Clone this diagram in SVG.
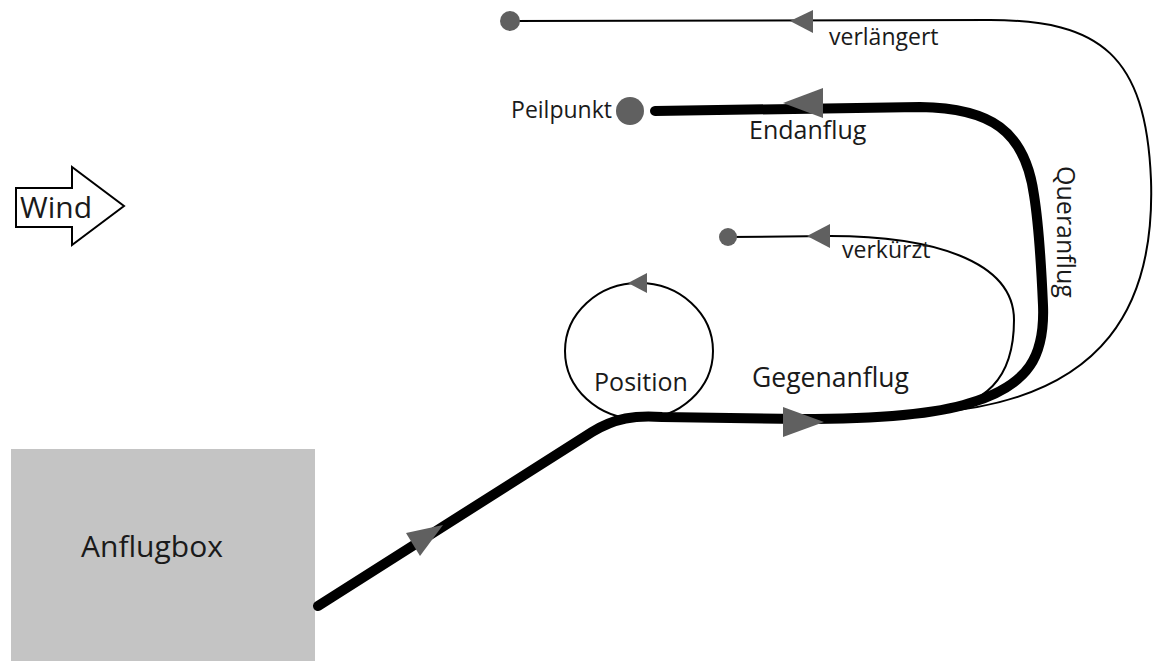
<svg xmlns="http://www.w3.org/2000/svg" width="1156" height="661" viewBox="0 0 1156 661">
<style>
  text { font-family: "Open Sans", "Noto Sans", "Liberation Sans", sans-serif; fill: #1a1a1a; }
  .thick { fill: none; stroke: #000; stroke-width: 10; stroke-linecap: round; stroke-linejoin: round; }
  .thin { fill: none; stroke: #000; stroke-width: 2; }
  .head { fill: #606060; }
  .dot { fill: #606060; }
  .lbl { font-size: 25px; }
  .small { font-size: 23px; }
</style>
<rect width="1156" height="661" fill="#fff"/>

<g id="anflugbox">
  <rect x="11" y="449" width="304" height="220" fill="#c4c4c4"/>
  <text x="152" y="557" font-size="30" text-anchor="middle">Anflugbox</text>
</g>

<g id="wind">
  <polygon points="16,188 72,188 72,167 124,206 72,245 72,227 16,227" fill="#fff" stroke="#000" stroke-width="2"/>
  <text x="20" y="218" font-size="30">Wind</text>
</g>

<g id="position">
  <ellipse cx="639" cy="351" rx="74" ry="68" class="thin"/>
  <polygon class="head" points="628,283 647,273 647,293"/>
  <text x="641" y="391" class="lbl" text-anchor="middle">Position</text>
</g>

<g id="connectors">
  <path id="verlaengert" class="thin" d="M510,21 L990,20 C1100,20 1146,55 1151,180 C1155,300 1110,400 930,413"/>
  <path id="verkuerzt" class="thin" d="M728,237 L830,236 C930,236 1014,260 1014,320 C1014,380 985,405 930,413"/>
  <path id="hauptweg" class="thick" d="M318,606 L592,432 C615,418 635,415 662,417 L800,419 C880,419 940,413 970,403 C1030,385 1045,355 1043,305 C1041,260 1038,220 1034,195 C1025,130 990,108 920,107 L655,111"/>
  <polygon class="head" points="406,533 443,525 420,556"/>
  <polygon class="head" points="783,407 783,437 824,422"/>
  <polygon class="head" points="783,103 823,88 823,118"/>
  <polygon class="head" points="790,21 813,10 813,33"/>
  <polygon class="head" points="807,236 830,224 830,248"/>
</g>

<g id="peilpunkt">
  <circle class="dot" cx="630" cy="111" r="14"/>
  <text x="612" y="118" class="small" text-anchor="end">Peilpunkt</text>
</g>

<g id="verlaengert-end">
  <circle class="dot" cx="510" cy="21" r="10"/>
  <text x="829" y="45" class="small">verlängert</text>
</g>

<g id="verkuerzt-end">
  <circle class="dot" cx="728" cy="237" r="9"/>
  <text x="842" y="258" class="small">verkürzt</text>
</g>

<g id="labels">
  <text x="749" y="139" class="lbl">Endanflug</text>
  <text x="752" y="387" font-size="26.5">Gegenanflug</text>
  <text transform="translate(1057,232) rotate(90)" class="lbl" text-anchor="middle">Queranflug</text>
</g>
</svg>
